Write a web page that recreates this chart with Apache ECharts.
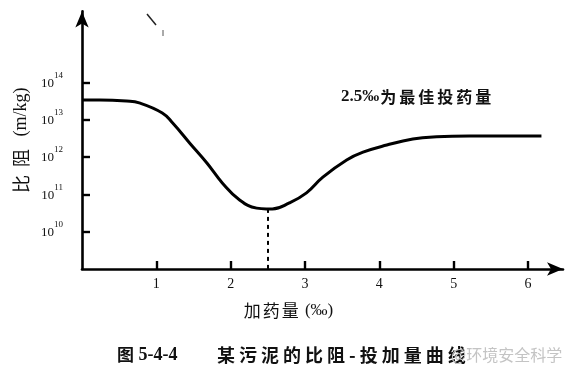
<!DOCTYPE html>
<html>
<head>
<meta charset="utf-8">
<script src="https://cdn.jsdelivr.net/npm/echarts@6/dist/echarts.min.js"></script>
<style>html,body{margin:0;padding:0;background:#fff}#c{width:575px;height:374px}</style>
</head>
<body>
<div id="c"></div>
<script>
// 加药量 (‰)
const dosage = [0, 0.24, 0.60, 0.77, 1.08, 1.22, 1.45, 1.68, 1.89, 2.12, 2.35, 2.48, 2.56, 2.79, 3.02, 3.24, 3.56, 3.78, 4.10, 4.45, 4.77, 5.21, 5.75, 6.18];
// log10 of 比阻 (m/kg)
const resistanceExp = [13.53, 13.53, 13.50, 13.45, 13.18, 12.91, 12.37, 11.84, 11.30, 10.85, 10.63, 10.61, 10.61, 10.77, 11.04, 11.46, 11.92, 12.13, 12.32, 12.48, 12.54, 12.56, 12.56, 12.56];
const xTicks = [1, 2, 3, 4, 5, 6];
const yTickExps = [10, 11, 12, 13, 14];
const optimumDose = 2.5;
const optimumExp = 10.61;
const captionFig = '图';
const captionNo = ' 5-4-4';
const captionText = '某污泥的比阻-投加量曲线';
const noteNum = '2.5‰';
const noteText = '为最佳投药量';
const watermark = '@环境安全科学';

const chart = echarts.init(document.getElementById('c'));
const pts = dosage.map((d, i) => [d, Math.pow(10, resistanceExp[i])]);
const serif = '"Liberation Serif","DejaVu Serif",serif';
const cjk = '"Noto Sans CJK SC",sans-serif';
const spaced = (s, tag) => Array.from(s).map(ch => '{' + tag + '|' + ch + '}').join('');

chart.setOption({
  animation: false,
  backgroundColor: '#fff',
  grid: {left: 82, right: 12, top: 11.4, bottom: 105},
  title: [
    {text: '{f|' + captionFig + '}{n|' + captionNo + '}', left: 112, top: 341,
     textStyle: {rich: {
       f: {fontFamily: cjk, fontSize: 17, fontWeight: 'bold', color: '#111'},
       n: {fontFamily: serif, fontSize: 18, color: '#111'}}}},
    {text: spaced(captionText, 'c'), left: 212, top: 341,
     textStyle: {rich: {c: {fontFamily: cjk, fontSize: 18, fontWeight: 'bold', color: '#111', padding: [0, 4, 0, 0]}}}},
    {text: watermark, left: 446, top: 342,
     textStyle: {fontFamily: cjk, fontSize: 16, fontWeight: 'normal', color: '#c4c4c4'}},
    {text: '{n|' + noteNum + '}' + spaced(noteText, 'c'), left: 336, top: 83,
     textStyle: {rich: {
       n: {fontFamily: serif, fontSize: 17, color: '#111', padding: [0, 1, 0, 0]},
       c: {fontFamily: cjk, fontSize: 16, fontWeight: 'bold', color: '#111', padding: [0, 3, 0, 0]}}}}
  ],
  graphic: [
    {type: 'line', shape: {x1: 147, y1: 14, x2: 156, y2: 25}, style: {stroke: '#222', lineWidth: 1.5}},
    {type: 'line', shape: {x1: 163, y1: 30, x2: 163, y2: 36}, style: {stroke: '#555', lineWidth: 1}}
  ],
  xAxis: {
    type: 'value', min: 0, max: 6.47,
    name: spaced('加药量', 'c') + '{l| (‰)}', nameLocation: 'middle', nameGap: 33,
    nameTextStyle: {padding: [0, 68, 0, 0], rich: {
      c: {fontFamily: cjk, fontSize: 17, color: '#111', padding: [0, 2, 0, 0]},
      l: {fontFamily: serif, fontSize: 17, color: '#111'}}},
    axisLine: {show: true, symbol: ['none', 'arrow'], symbolSize: [10, 16],
      lineStyle: {color: '#000', width: 2.6}},
    axisTick: {show: true, inside: true, length: 8, customValues: xTicks,
      lineStyle: {color: '#000', width: 2.4}},
    axisLabel: {customValues: xTicks, margin: 8, fontFamily: serif, fontSize: 14, color: '#111'},
    splitLine: {show: false}
  },
  yAxis: {
    type: 'log', logBase: 10, min: 1e9, max: Math.pow(10, 15.9),
    name: spaced('比阻', 'c') + '{l| (m/kg)}', nameLocation: 'middle', nameGap: 45,
    nameTextStyle: {padding: [0, 0, 0, 0], rich: {
      c: {fontFamily: cjk, fontSize: 18, color: '#111', padding: [0, 8, 0, 0]},
      l: {fontFamily: serif, fontSize: 18, color: '#111'}}},
    axisLine: {show: true, symbol: ['none', 'arrow'], symbolSize: [10, 16],
      lineStyle: {color: '#000', width: 2.6}},
    axisTick: {show: true, inside: true, length: 8,
      customValues: yTickExps.map(e => Math.pow(10, e)),
      lineStyle: {color: '#000', width: 2.4}},
    axisLabel: {
      customValues: yTickExps.map(e => Math.pow(10, e)),
      margin: 19,
      padding: [0, 0, 4, 0],
      formatter: v => '{b|10}{s|' + Math.round(Math.log10(v)) + '}',
      rich: {
        b: {fontFamily: serif, fontSize: 13, color: '#111', verticalAlign: 'bottom', padding: [6, 0, 0, 0]},
        s: {fontFamily: serif, fontSize: 9, color: '#111', verticalAlign: 'top', padding: [0, 0, 6, 0]}
      }
    },
    splitLine: {show: false}
  },
  series: [{
    type: 'line', data: pts, smooth: 0.45, showSymbol: false,
    lineStyle: {color: '#000', width: 3},
    markLine: {
      silent: true, symbol: ['none', 'none'], label: {show: false},
      lineStyle: {color: '#000', width: 2, type: [4, 4]},
      data: [[{coord: [optimumDose, Math.pow(10, optimumExp)]}, {coord: [optimumDose, 1e9]}]]
    }
  }]
});
</script>
</body>
</html>
